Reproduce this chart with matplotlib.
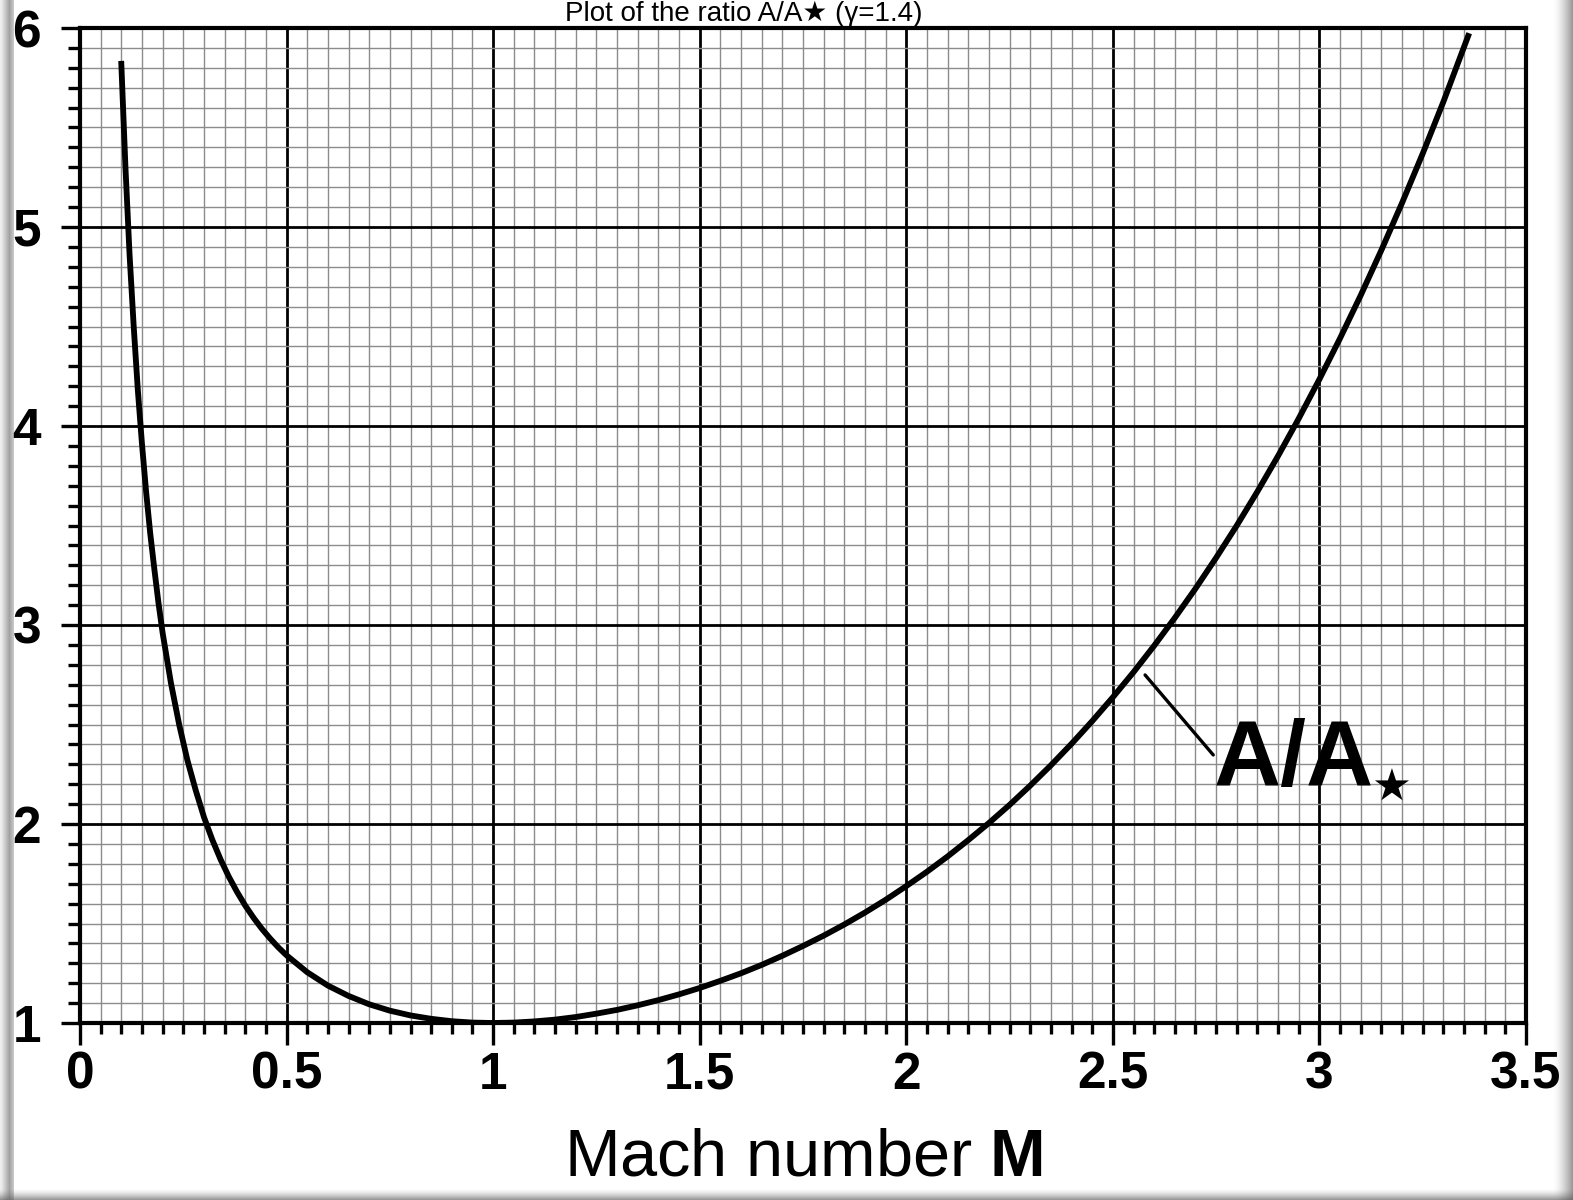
import matplotlib.pyplot as plt
from matplotlib.ticker import MultipleLocator
from matplotlib.patches import Rectangle

plt.rcParams['font.family'] = ['Liberation Sans', 'DejaVu Sans']
plt.rcParams['mathtext.fontset'] = 'custom'
plt.rcParams['mathtext.rm'] = 'Liberation Sans'
plt.rcParams['mathtext.bf'] = 'Liberation Sans:bold'

# values (A/A* against Mach number)
mach = [0.10, 0.11, 0.12, 0.13, 0.14, 0.15, 0.16, 0.17, 0.18, 0.19,
        0.20, 0.22, 0.24, 0.26, 0.28, 0.30, 0.32, 0.34, 0.36, 0.38,
        0.40, 0.42, 0.44, 0.46, 0.48, 0.50,
        0.55, 0.60, 0.65, 0.70, 0.75, 0.80, 0.85, 0.90, 0.95, 1.00,
        1.05, 1.10, 1.15, 1.20, 1.25, 1.30, 1.35, 1.40, 1.45, 1.50,
        1.55, 1.60, 1.65, 1.70, 1.75, 1.80, 1.85, 1.90, 1.95, 2.00,
        2.05, 2.10, 2.15, 2.20, 2.25, 2.30, 2.35, 2.40, 2.45, 2.50,
        2.55, 2.60, 2.65, 2.70, 2.75, 2.80, 2.85, 2.90, 2.95, 3.00,
        3.05, 3.10, 3.15, 3.20, 3.25, 3.30, 3.36]
area_ratio = [5.82, 5.30, 4.86, 4.50, 4.18, 3.91, 3.67, 3.46, 3.28, 3.11,
              2.96, 2.71, 2.50, 2.32, 2.17, 2.035, 1.922, 1.823, 1.736, 1.659,
              1.590, 1.529, 1.474, 1.425, 1.380, 1.340,
              1.255, 1.188, 1.136, 1.094, 1.062, 1.038, 1.021, 1.009, 1.002, 1.000,
              1.002, 1.008, 1.017, 1.030, 1.047, 1.066, 1.089, 1.115, 1.144, 1.176,
              1.212, 1.250, 1.292, 1.338, 1.387, 1.439, 1.495, 1.555, 1.619, 1.688,
              1.760, 1.837, 1.919, 2.005, 2.096, 2.193, 2.295, 2.403, 2.517, 2.637,
              2.763, 2.896, 3.036, 3.183, 3.338, 3.500, 3.671, 3.850, 4.038, 4.235,
              4.441, 4.657, 4.884, 5.121, 5.369, 5.629, 5.96]

xticks = [0, 0.5, 1, 1.5, 2, 2.5, 3, 3.5]
xtick_labels = ['0', '0.5', '1', '1.5', '2', '2.5', '3', '3.5']
yticks = [1, 2, 3, 4, 5, 6]
ytick_labels = ['1', '2', '3', '4', '5', '6']

fig = plt.figure(figsize=(15.73, 12), dpi=100)
ax = fig.add_axes([80/1573, 177/1200, 1446/1573, 995/1200])

ax.plot(mach, area_ratio, color='black', lw=4.2, zorder=5,
        solid_joinstyle='round')

ax.set_xlim(0, 3.5)
ax.set_ylim(1, 6)
ax.set_xticks(xticks, xtick_labels)
ax.set_yticks(yticks, ytick_labels)
ax.xaxis.set_minor_locator(MultipleLocator(0.05))
ax.yaxis.set_minor_locator(MultipleLocator(0.1))
ax.set_axisbelow(True)
ax.grid(which='minor', color='#8c8c8c', lw=1.0)
ax.grid(which='major', color='black', lw=2.0)

for s in ax.spines.values():
    s.set_linewidth(3.0)

ax.tick_params(axis='x', which='major', length=16, width=2.4, pad=4,
               labelsize=37)
ax.tick_params(axis='x', which='minor', length=8, width=2.4)
ax.tick_params(axis='y', which='major', length=14, width=2.4, pad=14,
               labelsize=37)
ax.tick_params(axis='y', which='minor', length=9, width=2.4)
for lab in ax.get_xticklabels() + ax.get_yticklabels():
    lab.set_fontweight('bold')

ax.set_xlabel(r'Mach number $\mathbf{M}$', fontsize=48)
ax.xaxis.set_label_coords(0.5, -0.136)
ax.xaxis.label.set_verticalalignment('center')

# curve label with leader line
ax.annotate('', xy=(2.578, 2.749), xytext=(2.743, 2.347),
            arrowprops=dict(arrowstyle='-', lw=2.4, color='black',
                            shrinkA=0, shrinkB=0))
ax.text(2.745, 2.196, 'A/A', fontsize=67, fontweight='bold',
        va='baseline', ha='left', zorder=6)
ax.text(3.174, 2.18, '\u2605', fontsize=32, family='DejaVu Sans',
        ha='center', va='center', zorder=6)

# title squeezed into the strip above the plot
fig.text(0.473, 1 - 1/1200, 'Plot of the ratio A/A\u2605 (\u03b3=1.4)',
         fontsize=20, ha='center', va='top')

# grey frame shading on the edges
W, H = 1573, 1200
for i in range(14):
    a = 0.55 * (1 - abs(i - 9) / 10)
    fig.patches.append(Rectangle((i/W, 0), 1/W, 1, transform=fig.transFigure,
                                 color='#555555', alpha=max(a, 0.1), lw=0))
for i in range(20):
    a = 0.6 * (i / 19) ** 1.5
    fig.patches.append(Rectangle((1 - (20 - i)/W, 0), 1/W, 1,
                                 transform=fig.transFigure,
                                 color='#555555', alpha=a, lw=0))
for i in range(12):
    a = 0.6 * (i / 11) ** 1.5
    fig.patches.append(Rectangle((0, (11 - i)/H), 1, 1/H,
                                 transform=fig.transFigure,
                                 color='#555555', alpha=a, lw=0))

fig.savefig('out.png', dpi=100)
